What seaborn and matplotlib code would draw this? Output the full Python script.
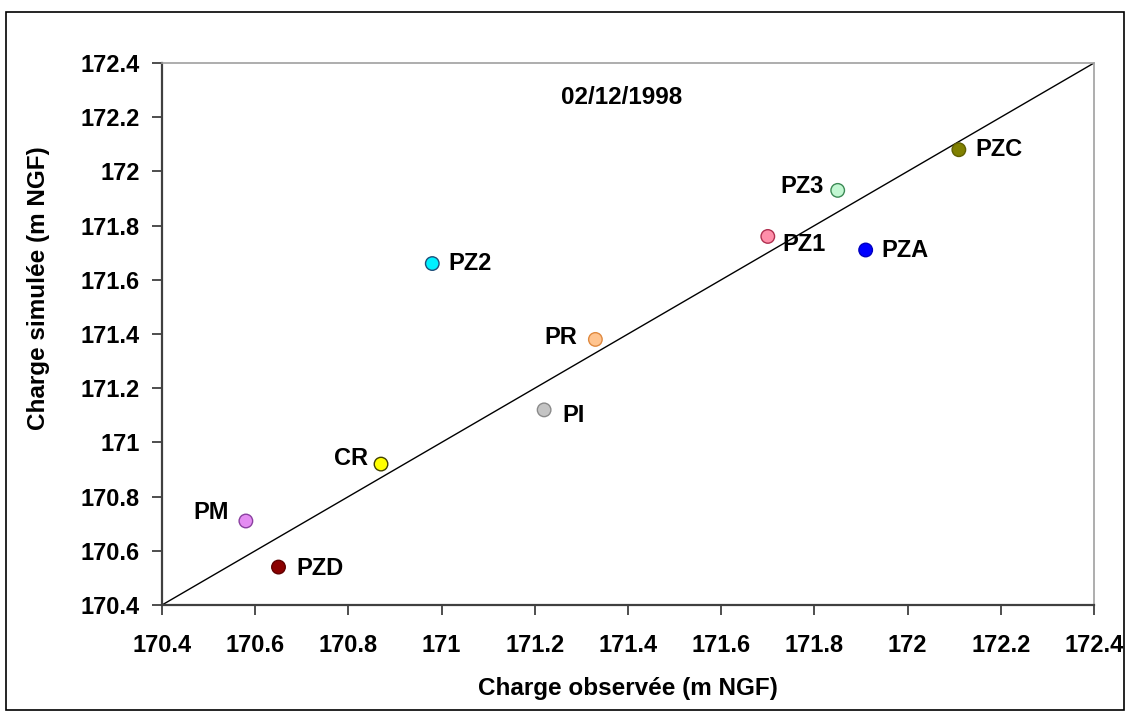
import matplotlib
matplotlib.use("Agg")
import matplotlib.pyplot as plt
from matplotlib.patches import Rectangle
from matplotlib.ticker import FuncFormatter, MultipleLocator
import seaborn as sns
import pandas as pd

# ---- data ----
names = ["PZ2", "PZ3", "PZ1", "PZA", "PZC", "PR", "PI", "CR", "PM", "PZD"]
observed = [170.98, 171.85, 171.70, 171.91, 172.11, 171.33, 171.22, 170.87, 170.58, 170.65]
simulated = [171.66, 171.93, 171.76, 171.71, 172.08, 171.38, 171.12, 170.92, 170.71, 170.54]
title_text = "02/12/1998"
x_label = "Charge observée (m NGF)"
y_label = "Charge simulée (m NGF)"

# ---- styles ----
face_colors = {
    "PZ2": "#00F0FF", "PZ3": "#C2F7D2", "PZ1": "#FF8FAA", "PZA": "#0000FF",
    "PZC": "#808000", "PR": "#FFC48F", "PI": "#C4C4C4", "CR": "#FFFF00",
    "PM": "#E48CF2", "PZD": "#8B0000",
}
edge_colors = {
    "PZ2": "#1F4E79", "PZ3": "#3C8A55", "PZ1": "#B03050", "PZA": "#0000C0",
    "PZC": "#606000", "PR": "#E08A40", "PI": "#8A8A8A", "CR": "#404000",
    "PM": "#8A40A0", "PZD": "#600000",
}
# label offsets in pixels (dx, dy) and horizontal alignment
label_style = {
    "PZ2": (16, 0, "left"), "PZ3": (-14, 4, "right"), "PZ1": (15, -8, "left"),
    "PZA": (16, -1, "left"), "PZC": (17, 0, "left"), "PR": (-18, 2, "right"),
    "PI": (18, -6, "left"), "CR": (-13, 6, "right"), "PM": (-17, 8, "right"),
    "PZD": (18, -1, "left"),
}

df = pd.DataFrame({"name": names, "obs": observed, "sim": simulated})

sns.set_theme(style="white")
plt.rcParams["font.family"] = ["Liberation Sans", "DejaVu Sans"]
plt.rcParams["font.weight"] = "bold"
plt.rcParams["text.color"] = "black"
plt.rcParams["axes.labelcolor"] = "black"
plt.rcParams["xtick.color"] = "black"
plt.rcParams["ytick.color"] = "black"

W, H = 1130, 716
fig = plt.figure(figsize=(W / 100, H / 100), dpi=100)
fig.patch.set_facecolor("white")

ax = fig.add_axes([162 / W, 1 - 605 / H, (1094 - 162) / W, (605 - 63) / H])
ax.set_facecolor("white")

lo, hi = 170.4, 172.4
ax.plot([lo, hi], [lo, hi], color="black", lw=1.0, zorder=1)

sns.scatterplot(data=df, x="obs", y="sim", hue="name", palette=face_colors,
                legend=False, s=95, ax=ax, zorder=3, linewidth=0)
coll = ax.collections[-1]
coll.set_edgecolors([edge_colors[n] for n in names])
coll.set_linewidths(1.0)

for n, xo, yo in zip(names, observed, simulated):
    dx, dy, ha = label_style[n]
    ax.annotate(n, (xo, yo), xytext=(dx, dy), textcoords="offset pixels",
                ha=ha, va="center", fontsize=17, fontweight="bold", color="black",
                zorder=4)

ax.set_xlim(lo, hi)
ax.set_ylim(lo, hi)
ax.xaxis.set_major_locator(MultipleLocator(0.2))
ax.yaxis.set_major_locator(MultipleLocator(0.2))
fmt = FuncFormatter(lambda v, p: f"{round(v, 1):g}")
ax.xaxis.set_major_formatter(fmt)
ax.yaxis.set_major_formatter(fmt)
ax.tick_params(axis="both", which="major", direction="out", length=7, width=1.2,
               color="#303030", labelsize=17, labelcolor="black")
ax.tick_params(axis="x", pad=14, bottom=True)
ax.tick_params(axis="y", pad=9, left=True)
for lbl in ax.get_xticklabels() + ax.get_yticklabels():
    lbl.set_fontweight("bold")

for side in ["left", "bottom"]:
    ax.spines[side].set_color("#404040")
    ax.spines[side].set_linewidth(1.6)
for side in ["top", "right"]:
    ax.spines[side].set_color("#A0A0A0")
    ax.spines[side].set_linewidth(1.2)

ax.set_xlabel("")
ax.set_ylabel("")
fig.text(628 / W, 1 - 688 / H, x_label, ha="center", va="center",
         fontsize=17.5, fontweight="bold", color="black")
fig.text(39 / W, 1 - 288 / H, y_label, ha="center", va="center", rotation=90,
         fontsize=17.5, fontweight="bold", color="black")
fig.text(622 / W, 1 - 98 / H, title_text, ha="center", va="center",
         fontsize=17.5, fontweight="bold", color="black")

# outer chart border
fig.patches.append(Rectangle((6 / W, 1 - 710 / H), (1124 - 6) / W, (710 - 12) / H,
                             transform=fig.transFigure, fill=False,
                             edgecolor="black", linewidth=1.2))

fig.savefig("out.png", dpi=100, facecolor="white")
